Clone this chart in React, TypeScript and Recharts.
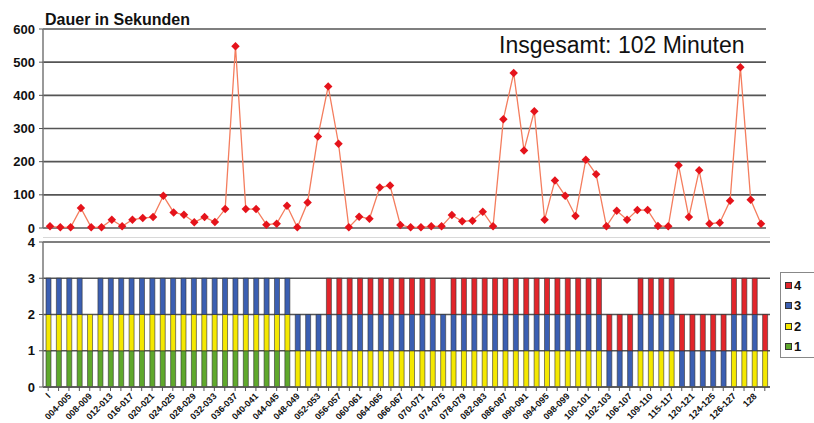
import { LineChart, Line, BarChart, Bar, XAxis, YAxis, CartesianGrid } from 'recharts'

// Dauer je Abschnitt in Sekunden (70 Abschnitte)
const durations = [
  5, 2, 2, 60, 2, 2, 25, 5, 25, 30,
  33, 97, 47, 40, 17, 33, 18, 57, 548, 57,
  57, 10, 13, 67, 2, 77, 276, 427, 254, 2,
  34, 28, 122, 128, 9, 2, 2, 5, 5, 39,
  20, 22, 49, 5, 328, 467, 234, 352, 25, 143,
  97, 36, 206, 162, 5, 52, 25, 54, 54, 6,
  5, 189, 33, 174, 13, 16, 82, 485, 85, 13,
]

// Stufe 1..4 je Abschnitt vorhanden (1) oder nicht (0)
const level1 = [
  1, 1, 1, 1, 1, 1, 1, 1, 1, 1,
  1, 1, 1, 1, 1, 1, 1, 1, 1, 1,
  1, 1, 1, 1, 0, 0, 0, 0, 0, 0,
  0, 0, 0, 0, 0, 0, 0, 0, 0, 0,
  0, 0, 0, 0, 0, 0, 0, 0, 0, 0,
  0, 0, 0, 0, 0, 0, 0, 0, 0, 0,
  0, 0, 0, 0, 0, 0, 0, 0, 0, 0,
]
const level2 = [
  1, 1, 1, 1, 1, 1, 1, 1, 1, 1,
  1, 1, 1, 1, 1, 1, 1, 1, 1, 1,
  1, 1, 1, 1, 1, 1, 1, 1, 1, 1,
  1, 1, 1, 1, 1, 1, 1, 1, 1, 1,
  1, 1, 1, 1, 1, 1, 1, 1, 1, 1,
  1, 1, 1, 1, 0, 0, 0, 1, 1, 1,
  1, 0, 0, 0, 0, 0, 1, 1, 1, 1,
]
const level3 = [
  1, 1, 1, 1, 0, 1, 1, 1, 1, 1,
  1, 1, 1, 1, 1, 1, 1, 1, 1, 1,
  1, 1, 1, 1, 1, 1, 1, 1, 1, 1,
  1, 1, 1, 1, 1, 1, 1, 1, 1, 1,
  1, 1, 1, 1, 1, 1, 1, 1, 1, 1,
  1, 1, 1, 1, 1, 1, 1, 1, 1, 1,
  1, 1, 1, 1, 1, 1, 1, 1, 1, 0,
]
const level4 = [
  0, 0, 0, 0, 0, 0, 0, 0, 0, 0,
  0, 0, 0, 0, 0, 0, 0, 0, 0, 0,
  0, 0, 0, 0, 0, 0, 0, 1, 1, 1,
  1, 1, 1, 1, 1, 1, 1, 1, 0, 1,
  1, 1, 1, 1, 1, 1, 1, 1, 1, 1,
  1, 1, 1, 1, 1, 1, 1, 1, 1, 1,
  1, 1, 1, 1, 1, 1, 1, 1, 1, 1,
]

// Beschriftung jeder zweiten Kategorie
const tickLabels = [
  'I', '004-005', '008-009', '012-013', '016-017', '020-021', '024-025',
  '028-029', '032-033', '036-037', '040-041', '044-045', '048-049', '052-053',
  '056-057', '060-061', '064-065', '066-067', '070-071', '074-075', '078-079',
  '082-083', '086-087', '090-091', '094-095', '098-099', '100-101', '102-103',
  '106-107', '109-110', '115-117', '120-121', '124-125', '126-127', '128',
]

const levelColors = { g1: '#5FA82C', g2: '#F4E800', g3: '#3B5FB2', g4: '#E2252B' }
const FONT = '"Liberation Sans", Arial, sans-serif'
const GRID = '#555'

const lineData = durations.map((v, i) => ({ idx: i, dauer: v }))
const barData = durations.map((_, i) => ({
  idx: i, g1: level1[i], g2: level2[i], g3: level3[i], g4: level4[i],
}))

const axisTick = { fontSize: 13, fontWeight: 'bold', fill: '#111', fontFamily: FONT }

const Marker = (props: any) => {
  const { cx, cy, index } = props
  if (cx == null || cy == null) return <g key={index} />
  return (
    <rect
      key={index}
      x={cx - 3}
      y={cy - 3}
      width={6}
      height={6}
      fill="#E5131B"
      transform={`rotate(45 ${cx} ${cy})`}
    />
  )
}

const SlantTick = (props: any) => {
  const { x, y, payload } = props
  const i = payload.value
  if (i % 2) return null
  return (
    <g transform={`translate(${x},${y})`}>
      <text
        x={0}
        y={0}
        dy={4}
        textAnchor="end"
        transform="rotate(-45)"
        fontSize={9}
        fontWeight="bold"
        fill="#111"
        fontFamily={FONT}
      >
        {tickLabels[i / 2]}
      </text>
    </g>
  )
}

const legendItems = [
  { label: '4', color: levelColors.g4 },
  { label: '3', color: levelColors.g3 },
  { label: '2', color: levelColors.g2 },
  { label: '1', color: levelColors.g1 },
]

export default function App() {
  return (
    <div style={{ position: 'absolute', left: 0, top: 0, width: 814, height: 423, background: '#fff', overflow: 'hidden', fontFamily: FONT }}>
      {/* Titel oben links */}
      <div style={{ position: 'absolute', left: 45, top: 12, fontSize: 16, lineHeight: '16px', fontWeight: 'bold', color: '#111' }}>
        Dauer in Sekunden
      </div>
      <div style={{ position: 'absolute', left: 499, top: 34, fontSize: 23, lineHeight: '23px', color: '#111' }}>
        Insgesamt: 102 Minuten
      </div>

      <div style={{ position: 'absolute', left: 0, top: 0 }}>
        <LineChart width={814} height={240} data={lineData} margin={{ top: 29, right: 48, bottom: 12, left: 0 }}>
          <CartesianGrid vertical={false} stroke={GRID} strokeWidth={1.6} />
          <XAxis dataKey="idx" type="category" hide padding={{ left: 7, right: 5 }} />
          <YAxis
            width={43}
            domain={[0, 600]}
            ticks={[0, 100, 200, 300, 400, 500, 600]}
            tick={axisTick}
            tickSize={4}
            tickMargin={4}
            axisLine={{ stroke: '#777', strokeWidth: 1.5 }}
            tickLine={{ stroke: GRID }}
          />
          <YAxis yAxisId="rand" orientation="right" width={0} tick={false} tickLine={false} axisLine={{ stroke: GRID, strokeWidth: 1.5 }} />
          <Line
            type="linear"
            dataKey="dauer"
            stroke="#F47D5E"
            strokeWidth={1.3}
            dot={Marker}
            activeDot={false}
            isAnimationActive={false}
          />
        </LineChart>
      </div>

      <div style={{ position: 'absolute', left: 43, top: 237, width: 727, height: 1, background: '#d8d8d8' }} />

      <div style={{ position: 'absolute', left: 0, top: 230 }}>
        <BarChart width={814} height={193} data={barData} margin={{ top: 12, right: 44, bottom: 0, left: 0 }} barCategoryGap={0}>
          <CartesianGrid vertical={false} stroke={GRID} strokeWidth={1.4} />
          <XAxis
            dataKey="idx"
            type="category"
            interval={0}
            height={36}
            tick={<SlantTick />}
            tickSize={4}
            tickMargin={3}
            axisLine={{ stroke: GRID, strokeWidth: 1.4 }}
            tickLine={{ stroke: GRID }}
          />
          <YAxis
            width={43}
            domain={[0, 4]}
            ticks={[0, 1, 2, 3, 4]}
            tick={axisTick}
            tickSize={4}
            tickMargin={4}
            axisLine={{ stroke: '#777', strokeWidth: 1.5 }}
            tickLine={{ stroke: GRID }}
          />
          <YAxis yAxisId="rand" orientation="right" width={0} tick={false} tickLine={false} axisLine={{ stroke: GRID, strokeWidth: 1.5 }} />
          <Bar dataKey="g1" stackId="s" fill={levelColors.g1} stroke="#333" strokeWidth={0.6} barSize={5} isAnimationActive={false} />
          <Bar dataKey="g2" stackId="s" fill={levelColors.g2} stroke="#333" strokeWidth={0.6} barSize={5} isAnimationActive={false} />
          <Bar dataKey="g3" stackId="s" fill={levelColors.g3} stroke="#333" strokeWidth={0.6} barSize={5} isAnimationActive={false} />
          <Bar dataKey="g4" stackId="s" fill={levelColors.g4} stroke="#333" strokeWidth={0.6} barSize={5} isAnimationActive={false} />
        </BarChart>
      </div>

      {/* Legende rechts */}
      <div style={{ position: 'absolute', left: 780, top: 272, width: 40, height: 84, border: '1px solid #888', background: '#fff' }}>
        {legendItems.map((item, i) => (
          <div key={item.label} style={{ position: 'absolute', left: 4, top: 5 + i * 20.5, display: 'flex', alignItems: 'center', height: 14 }}>
            <span style={{ display: 'inline-block', width: 5, height: 5, background: item.color, border: '1px solid #333' }} />
            <span style={{ marginLeft: 2, fontSize: 13, fontWeight: 'bold', color: '#111' }}>{item.label}</span>
          </div>
        ))}
      </div>
    </div>
  )
}
